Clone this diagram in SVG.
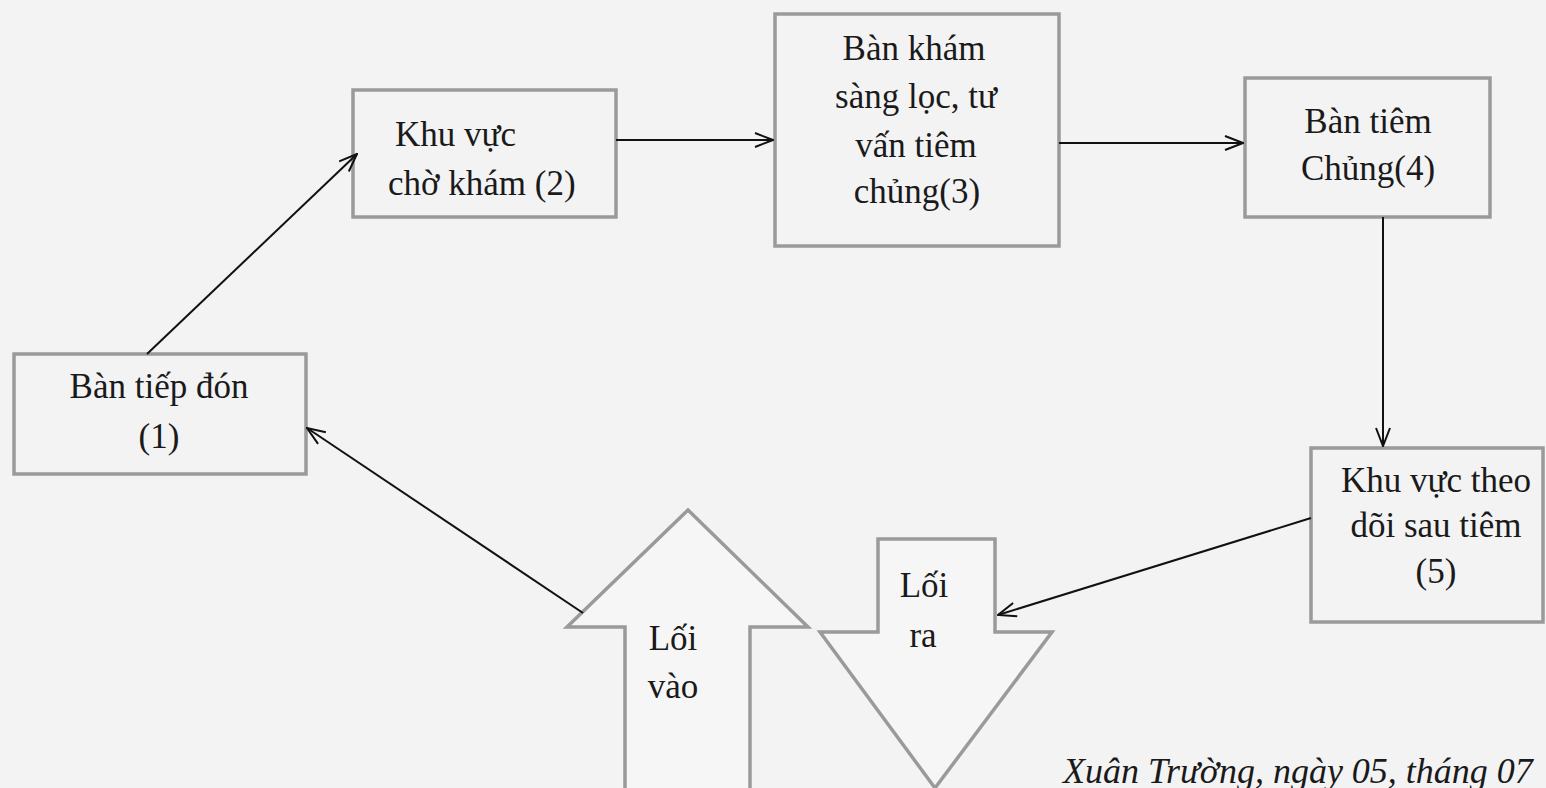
<svg xmlns="http://www.w3.org/2000/svg" width="1546" height="788" viewBox="0 0 1546 788">
<style>
.box{fill:none;stroke:#9a9a9a;stroke-width:3.5}
.blk{fill:#f6f6f6;stroke:#9a9a9a;stroke-width:3.5;stroke-linejoin:miter}
.t{font-size:35px;fill:#1a1a1a;text-anchor:middle}
.st{text-anchor:start}
.it{font-size:36px;font-style:italic;fill:#1a1a1a}
.ln{stroke:#111;stroke-width:2;fill:none}
</style>
<defs>
<marker id="ah" viewBox="0 0 20 16" refX="19" refY="8" markerWidth="20" markerHeight="16" markerUnits="userSpaceOnUse" orient="auto">
<path d="M1,1 L19,8 L1,15" fill="none" stroke="#111" stroke-width="2"/>
</marker>
</defs>
<rect x="0" y="0" width="1546" height="788" fill="#f3f3f3"/>
<g font-family="'Liberation Serif', 'Times New Roman', Tinos, 'DejaVu Serif', serif">
<g id="n1">
<rect class="box" x="14" y="354" width="292" height="120"/>
<text class="t" x="159" y="398">Bàn tiếp đón</text>
<text class="t" x="159" y="448">(1)</text>
</g>
<g id="n2">
<rect class="box" x="353" y="90" width="263" height="127"/>
<text class="t st" x="395" y="146">Khu vực</text>
<text class="t st" x="388" y="195">chờ khám (2)</text>
</g>
<g id="n3">
<rect class="box" x="775" y="14" width="284" height="232"/>
<text class="t" x="914" y="60">Bàn khám</text>
<text class="t" x="916" y="108">sàng lọc, tư</text>
<text class="t" x="916" y="157">vấn tiêm</text>
<text class="t" x="917" y="203">chủng(3)</text>
</g>
<g id="n4">
<rect class="box" x="1245" y="78" width="245" height="139"/>
<text class="t" x="1368" y="133">Bàn tiêm</text>
<text class="t" x="1368" y="180">Chủng(4)</text>
</g>
<g id="n5">
<rect class="box" x="1311" y="448" width="232" height="174"/>
<text class="t" x="1436" y="492">Khu vực theo</text>
<text class="t" x="1436" y="537">dõi sau tiêm</text>
<text class="t" x="1436" y="583">(5)</text>
</g>
<g id="in">
<polygon class="blk" points="688,510 808,627 750,627 750,792 625,792 625,627 567,627"/>
<text class="t" x="673" y="650">Lối</text>
<text class="t" x="673" y="698">vào</text>
</g>
<g id="out">
<polygon class="blk" points="878,539 995,539 995,632 1052,632 935,788 820,632 878,632"/>
<text class="t" x="924" y="597">Lối</text>
<text class="t" x="923" y="647">ra</text>
</g>
<text class="it" x="1063" y="783">Xuân Trường, ngày 05, tháng 07</text>
</g>
<g id="connectors">
<line class="ln" x1="147" y1="354" x2="357" y2="154" marker-end="url(#ah)"/>
<line class="ln" x1="616" y1="140" x2="773" y2="140" marker-end="url(#ah)"/>
<line class="ln" x1="1059" y1="143" x2="1243" y2="143" marker-end="url(#ah)"/>
<line class="ln" x1="1383" y1="217" x2="1383" y2="446" marker-end="url(#ah)"/>
<line class="ln" x1="1311" y1="518" x2="998" y2="615" marker-end="url(#ah)"/>
<line class="ln" x1="583" y1="613" x2="307" y2="428" marker-end="url(#ah)"/>
</g>
</svg>
